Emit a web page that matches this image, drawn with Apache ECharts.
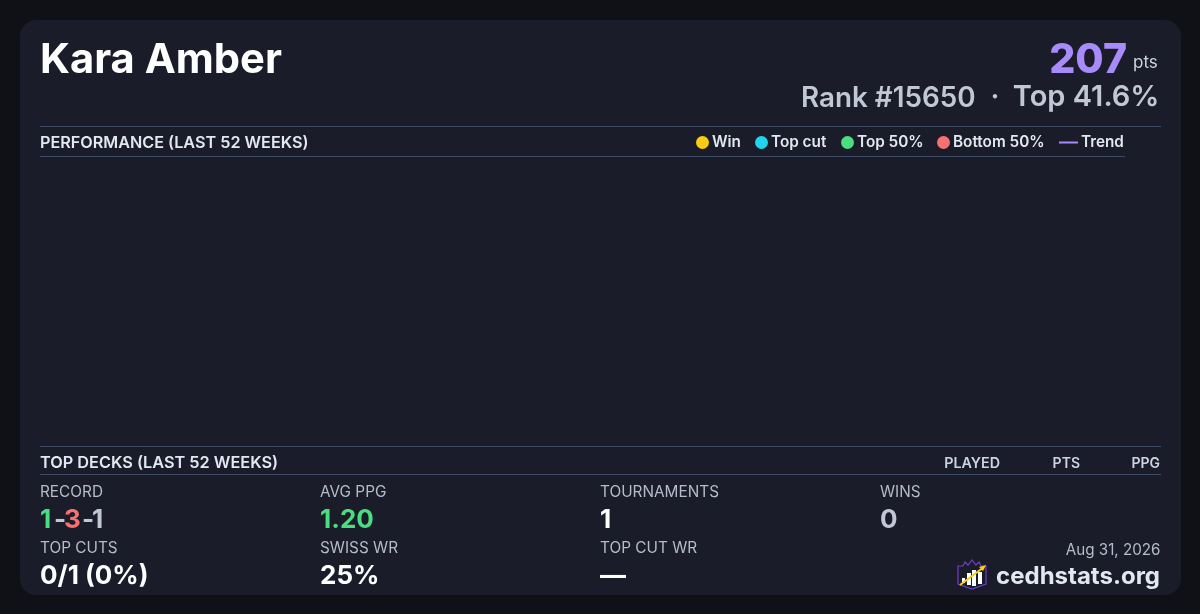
<!DOCTYPE html>
<html><head><meta charset="utf-8">
<style>html,body{margin:0;padding:0;background:#0f1116}#c{width:1200px;height:614px}</style>
<script src="https://cdn.jsdelivr.net/npm/echarts@6/dist/echarts.min.js"></script>
</head><body><div id="c"></div>
<script>
const weeks = [];
const winPoints = [];
const topCutPoints = [];
const top50Points = [];
const bottom50Points = [];
const trendPoints = [];
const legendNames = ['Win','Top cut','Top 50%','Bottom 50%','Trend'];
const legendColors = ['#facc15','#22d3ee','#4ade80','#f87171','#a78bfa'];
const legendLeft = [696,755,841,937,1059];
const statLabels = ['RECORD','AVG PPG','TOURNAMENTS','WINS','TOP CUTS','SWISS WR','TOP CUT WR'];
const statValues = ['1.20','1','0','0/1 (0%)','25%','—'];
const deckHeaders = ['PLAYED','PTS','PPG'];

const F = 'Inter, "Noto Sans", sans-serif';
const T = (x,base,text,size,weight,fill,align) => ({type:'text',x,y:base-0.82*size,silent:true,style:{text,font:`${weight} ${size}px ${F}`,fill,textAlign:align||'left',textVerticalAlign:'top',verticalAlign:'top'}});
const L = (x1,x2,y) => ({type:'rect',silent:true,shape:{x:x1,y,width:x2-x1,height:1},style:{fill:'#3d4a63'}});
const LAB = 15.35, VAL = 26, lc = '#b4bccb';

const elems = [
  {type:'rect',silent:true,z:-10,shape:{x:20,y:20,width:1161,height:575,r:16},style:{fill:'#1a1d29'}},
  T(40,74,'Kara Amber',41.7,700,'#ffffff'),
  T(1127,74,'207',41,800,'#a78bfa','right'),
  T(1133,68,'pts',17,400,'#cbd5e1'),
  T(975.5,107,'Rank #15650',27.8,600,'#c0c8d6','right'),
  T(995,107,'·',28,600,'#c0c8d6','center'),
  T(1159.5,107,'Top 41.6%',29,600,'#c0c8d6','right'),
  L(40,1161,126), L(40,1125,156), L(40,1161,446), L(40,1161,474),
  T(40,148,'PERFORMANCE (LAST 52 WEEKS)',16.2,600,'#e2e8f0'),
  T(40,468,'TOP DECKS (LAST 52 WEEKS)',16.3,600,'#e2e8f0'),
  T(1000,468,deckHeaders[0],14.3,600,'#cbd5e1','right'),
  T(1080,468,deckHeaders[1],14,600,'#cbd5e1','right'),
  T(1160,468,deckHeaders[2],14,600,'#cbd5e1','right'),
  T(40,497.5,statLabels[0],LAB,400,lc),
  T(320,497.5,statLabels[1],LAB,400,lc),
  T(600,497.5,statLabels[2],LAB,400,lc),
  T(880,497.5,statLabels[3],LAB,400,lc),
  T(40,553.5,statLabels[4],LAB,400,lc),
  T(320,553.5,statLabels[5],LAB,400,lc),
  T(600,553.5,statLabels[6],LAB,400,lc),
  T(40,529,'1',VAL,700,'#4ade80'),
  T(54,529,'-',VAL,700,'#c0c8d6'),
  T(64,529,'3',VAL,700,'#f87171'),
  T(82,529,'-',VAL,700,'#c0c8d6'),
  T(92,529,'1',VAL,700,'#c0c8d6'),
  T(320,529,statValues[0],VAL,700,'#4ade80'),
  T(600,529,statValues[1],VAL,700,'#ffffff'),
  T(880,529,statValues[2],VAL,700,'#c0c8d6'),
  T(40,585,statValues[3],VAL,700,'#ffffff'),
  T(320,585,statValues[4],26,700,'#ffffff'),
  T(600,585,statValues[5],VAL,700,'#ffffff'),
  T(1160.5,555.5,'Aug 31, 2026',15.2,400,lc,'right'),
  T(1160,584,'cedhstats.org',24,700,'#e2e8f0','right'),
  {type:'polygon',silent:true,shape:{points:[[958,566],[963,566],[965,562],[968,565],[972,560],[976,565],[979,562],[981,566],[986,566],[986,584],[972,589],[958,584]]},style:{fill:'#1a1d29',stroke:'#6d3fc4',lineWidth:1.2}},
  {type:'rect',silent:true,shape:{x:962,y:578,width:3,height:5},style:{fill:'#fff'}},
  {type:'rect',silent:true,shape:{x:967,y:573,width:4,height:12},style:{fill:'#fff'}},
  {type:'rect',silent:true,shape:{x:972,y:570,width:4,height:16},style:{fill:'#fff'}},
  {type:'rect',silent:true,shape:{x:978,y:572,width:4,height:12},style:{fill:'#fff'}},
  {type:'line',silent:true,z:5,shape:{x1:960,y1:585,x2:984,y2:567},style:{stroke:'#facc15',lineWidth:2}},
  {type:'polygon',silent:true,z:5,shape:{points:[[986,565],[979,567],[983,571]]},style:{fill:'#facc15'}}
];

const chart = echarts.init(document.getElementById('c'),null,{renderer:'canvas',width:1200,height:614});
chart.setOption({
  backgroundColor:'#0f1116',
  animation:false,
  grid:{left:40,right:75,top:157,height:289,containLabel:false},
  xAxis:{type:'category',data:weeks,show:false},
  yAxis:{type:'value',show:false},
  legend:legendNames.map((n,i)=>({
    data:[n],left:legendLeft[i],top:135,padding:0,
    itemWidth:i===4?19:13,itemHeight:i===4?2:13,
    icon:i===4?'rect':'circle',selectedMode:false,
    itemStyle:{opacity:1},
    textStyle:{color:'#e2e8f0',fontFamily:F,fontSize:15.3,fontWeight:600,padding:[0,0,0,-2]}
  })),
  series:[
    {name:legendNames[0],type:'scatter',data:winPoints,itemStyle:{color:legendColors[0],opacity:1}},
    {name:legendNames[1],type:'scatter',data:topCutPoints,itemStyle:{color:legendColors[1],opacity:1}},
    {name:legendNames[2],type:'scatter',data:top50Points,itemStyle:{color:legendColors[2],opacity:1}},
    {name:legendNames[3],type:'scatter',data:bottom50Points,itemStyle:{color:legendColors[3],opacity:1}},
    {name:legendNames[4],type:'line',data:trendPoints,showSymbol:false,itemStyle:{color:legendColors[4]},lineStyle:{color:legendColors[4],width:2}}
  ],
  graphic:{elements:elems}
});
</script></body></html>
